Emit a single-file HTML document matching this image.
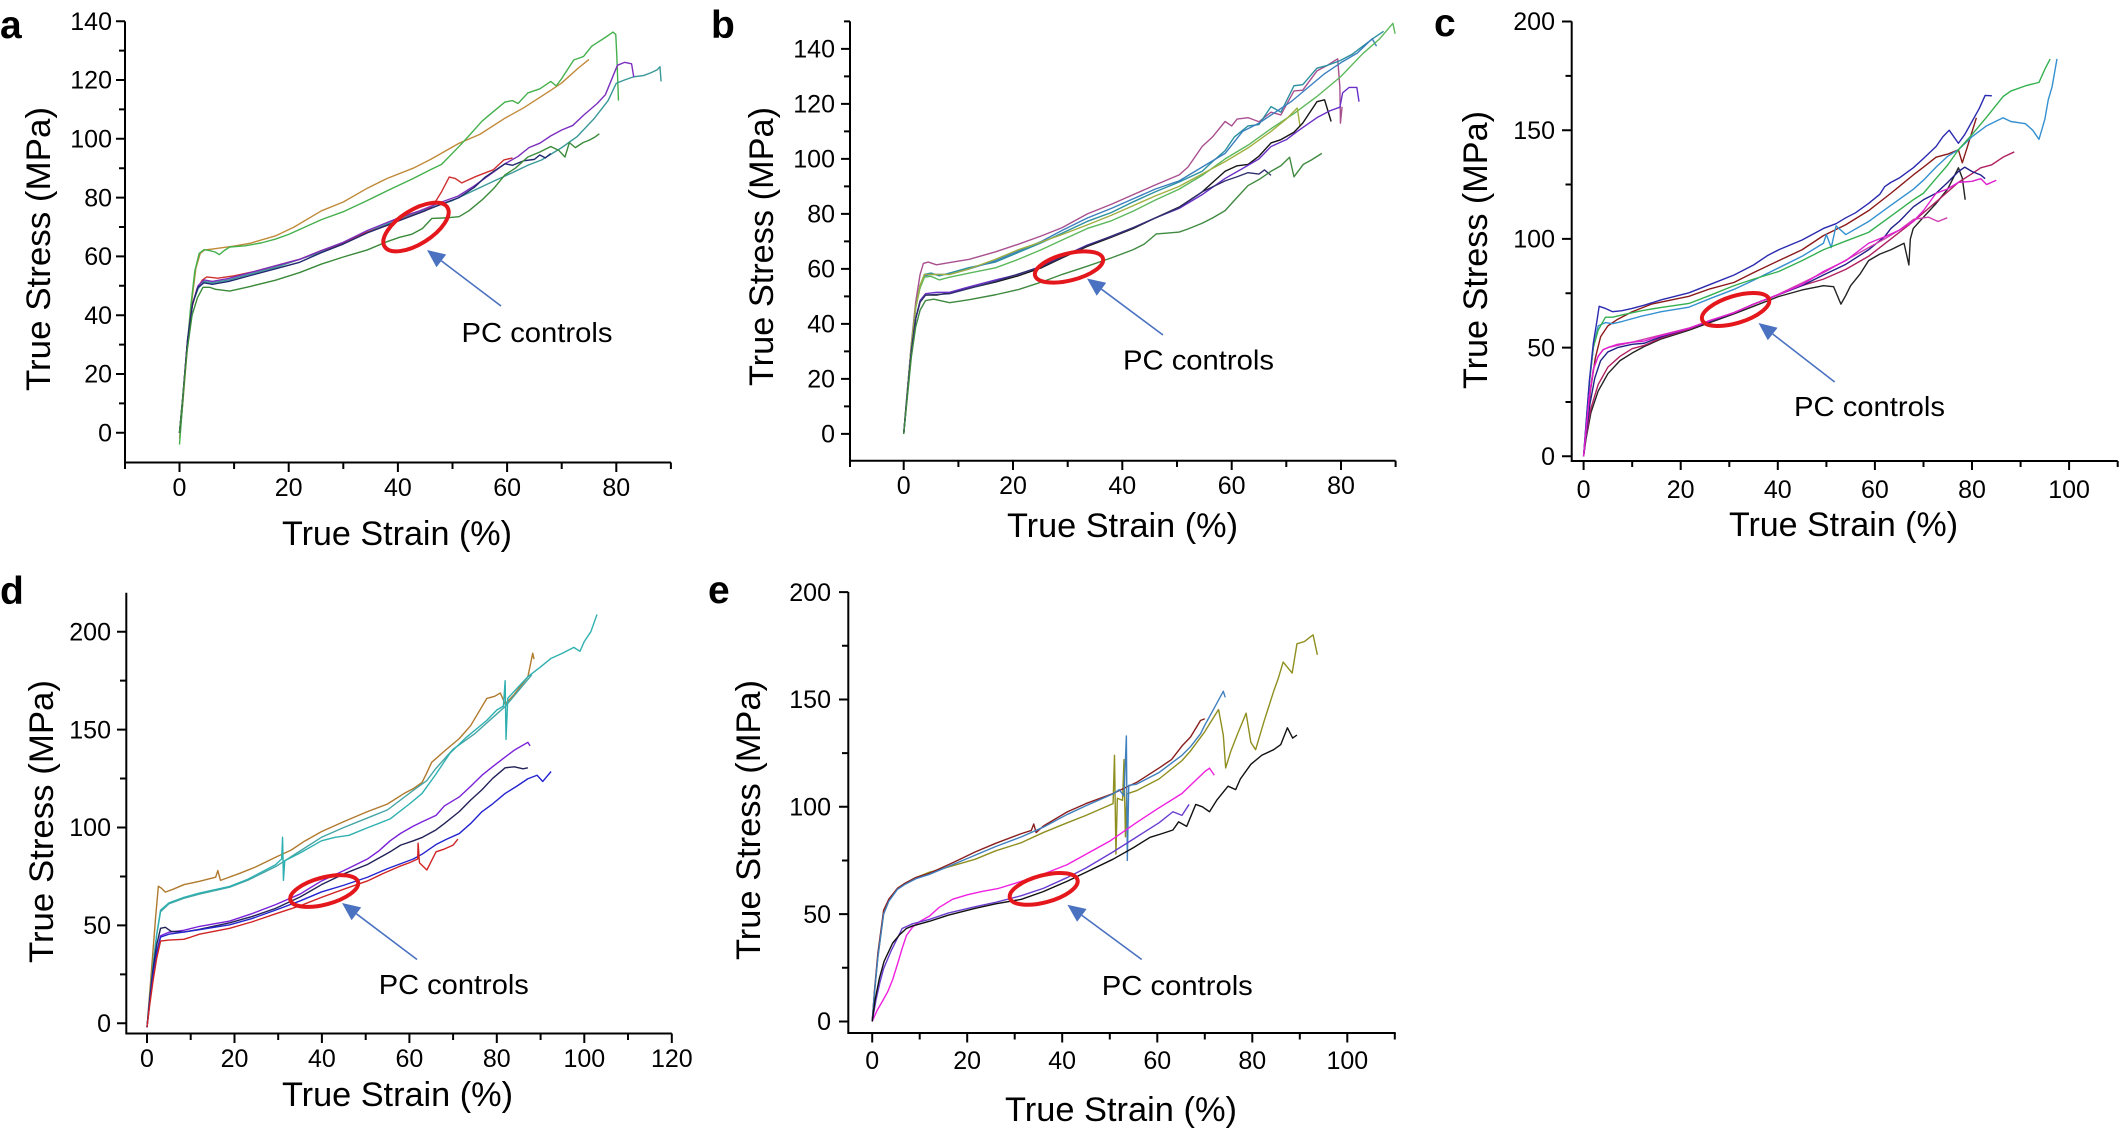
<!DOCTYPE html>
<html><head><meta charset="utf-8"><style>
html,body{margin:0;padding:0;background:#fff;}
svg{display:block;}
text{font-family:"Liberation Sans",Arial,sans-serif;fill:#000;}
.t{font-size:25px;}
.al{font-size:34px;}
.pc{font-size:28px;}
.lab{font-size:39px;font-weight:bold;}
.ax{stroke:#000;stroke-width:2;fill:none;}
.c path{fill:none;stroke-width:1.4;vector-effect:non-scaling-stroke;stroke-linejoin:round;}
.ell{fill:none;stroke:#e4171c;stroke-width:4;}
.arl{stroke:#4a72c0;stroke-width:1.6;}
.arh{fill:#4a72c0;}
</style></head><body>
<svg width="2123" height="1132" viewBox="0 0 2123 1132" xmlns="http://www.w3.org/2000/svg">
<rect width="2123" height="1132" fill="#fff"/>

<!-- ================= PANEL A ================= -->
<text class="lab" x="0" y="38">a</text>
<path class="ax" d="M125,21.4V462.5H671"/>
<path class="ax" d="M116,432.8H125M116,374H125M116,315.2H125M116,256.4H125M116,197.6H125M116,138.8H125M116,80H125M116,21.2H125
M119,403.4H125M119,344.6H125M119,285.8H125M119,227H125M119,168.2H125M119,109.4H125M119,50.6H125
M179.5,462.5V472M288.7,462.5V472M397.9,462.5V472M507.1,462.5V472M616.3,462.5V472
M125,462.5V469M234.1,462.5V469M343.3,462.5V469M452.5,462.5V469M561.7,462.5V469M670.9,462.5V469"/>
<g class="t" text-anchor="end">
<text x="112" y="441.5">0</text><text x="112" y="382.7">20</text><text x="112" y="323.9">40</text><text x="112" y="265.1">60</text>
<text x="112" y="206.3">80</text><text x="112" y="147.5">100</text><text x="112" y="88.7">120</text><text x="112" y="29.9">140</text>
</g>
<g class="t" text-anchor="middle">
<text x="179.5" y="496">0</text><text x="288.7" y="496">20</text><text x="397.9" y="496">40</text><text x="507.1" y="496">60</text><text x="616.3" y="496">80</text>
</g>
<text class="al" text-anchor="middle" x="397" y="545" textLength="230" lengthAdjust="spacingAndGlyphs">True Strain (%)</text>
<text class="al" text-anchor="middle" transform="translate(50,249) rotate(-90)" textLength="284" lengthAdjust="spacingAndGlyphs">True Stress (MPa)</text>
<g class="c" transform="matrix(5.46 0 0 -2.94 179.5 432.8)">
<path stroke="#c08a3a" d="M0,-2 L0.6,10 L1.4,28 L2.2,44 L3,56 L3.8,61 L4.6,62.2 L6,62.5 L8,63 L10,63.5 L13,64.5 L17.6,67 L21,70 L26,75.5 L30,78.5 L34.4,83.2 L38,86.5 L42.8,90 L46,93 L51.2,98.5 L55,101.5 L59.6,107 L63,110.5 L68,116.5 L70,119 L73,124 L75,127"/>
<path stroke="#44b04c" d="M0,-4 L0.5,8 L1.2,25 L2,42 L2.8,55 L3.6,61 L4.5,62.3 L5.5,62 L6.5,61.5 L7.3,60.6 L8.2,62 L9.2,63.2 L12,63.6 L15,64.6 L17.6,65.9 L20,67.5 L23,70 L26,72.5 L30,75.2 L34.4,79 L38,82.3 L42.8,86.5 L46,89.5 L48,91.3 L51.2,97.4 L53,101 L55.4,106 L57,108.5 L59.6,112.5 L61,113 L62,112 L63.8,115.6 L66,117 L68,119.5 L69,118 L70,120.5 L72.2,126.8 L74,128 L75.5,131.5 L76.5,132.7 L78,134.5 L79.4,136.3 L79.9,135.5 L80.1,128 L80.3,118 L80.4,113"/>
<path stroke="#3a9898" d="M0,0 L0.6,12 L1.5,32 L2.4,44 L3.4,49 L4.5,51.5 L6,51 L9,52 L13,54 L18,56.5 L26,61.5 L34.4,68.3 L40,72.5 L46,76.5 L50,79 L54,82.5 L58,86 L61,88.5 L63.8,91 L66.3,92.8 L70,97 L72.8,100.7 L76,107 L78.5,113 L80,118.9 L81.5,120 L83.2,121.1 L85,121.5 L86.4,122.5 L87.5,123.5 L88,124.5 L88.2,119.5"/>
<path stroke="#d03030" d="M0,0 L0.6,12 L1.4,30 L2.2,42 L3.2,49 L4.2,52 L5,53 L7,52.6 L10,53.4 L14,55 L18,57 L22,59 L26,62 L30,64.5 L34,68 L38,70.5 L42,73.5 L45,75.5 L46.5,77.5 L48,82 L49.4,87 L50.5,86.5 L51.7,85 L54.3,87.2 L57.5,89.5 L59.4,92.8 L61,93.5"/>
<path stroke="#7b2fbe" d="M0,0 L0.6,12 L1.5,32 L2.4,44 L3.4,50 L4.5,52 L6,51.5 L9,52.5 L13,54.5 L18,57 L22,59 L26,62 L30,64.8 L34.4,68.8 L40,73 L44,75.5 L48,78.5 L51,80.5 L54,84 L57,88 L59.6,91.5 L62,94 L64,97 L66,98.5 L68,101 L70,103 L72,104.5 L74,108 L76.5,112 L78,115 L80.2,125 L81.5,126 L82.8,125.5 L83.2,121"/>
<path stroke="#202870" d="M0,0 L0.6,12 L1.5,32 L2.4,44 L3.4,49.5 L4.5,51 L6,50.5 L9,51.5 L13,53.5 L18,56 L22,58 L26,61.3 L30,64.2 L34.4,68 L40,72 L44,74.8 L48,77.8 L51.2,80 L54,83.5 L56,87 L58,89.5 L59.6,91.5 L61,91 L63,92.5 L65,93 L66,94.5 L67,93.5 L68,95"/>
<path stroke="#3a8a3a" d="M0,0 L0.6,12 L1.4,28 L2.3,40 L3.3,46 L4.3,49.5 L5.5,49.5 L6.6,48.8 L9.2,48.2 L13,49.8 L17.6,51.9 L22,54.5 L26,57.4 L30,59.8 L34.4,62.2 L38,65 L40.3,66.5 L42.5,67.5 L44.5,69.5 L46.2,72.9 L48.7,73.1 L51.2,73.5 L53,75.5 L55.4,79.2 L57.5,83 L59.6,87.7 L61.5,90 L63.8,93.8 L66,95.5 L68,97.4 L69.5,96 L70.6,93.8 L71.4,98.7 L72.5,97 L73.9,98.7 L75,99.5 L76,100.5 L76.9,101.7"/>
</g>
<ellipse class="ell" cx="416" cy="227" rx="37" ry="17" transform="rotate(-32 416 227)"/>
<line class="arl" x1="501" y1="306" x2="441.4" y2="260.9"/>
<polygon class="arh" points="427,250 446.2,254.5 436.5,267.2"/>
<text class="pc" x="461.5" y="342" textLength="151" lengthAdjust="spacingAndGlyphs">PC controls</text>

<!-- ================= PANEL B ================= -->
<text class="lab" x="711" y="38">b</text>
<path class="ax" d="M850,21.4V460.7H1395.6"/>
<path class="ax" d="M841,433.9H850M841,378.9H850M841,323.9H850M841,268.9H850M841,213.9H850M841,158.9H850M841,103.9H850M841,48.9H850
M844,406.4H850M844,351.4H850M844,296.4H850M844,241.4H850M844,186.4H850M844,131.4H850M844,76.4H850M844,21.4H850
M903.7,460.7V470M1013,460.7V470M1122.3,460.7V470M1231.7,460.7V470M1341,460.7V470
M850,460.7V467M958.4,460.7V467M1067.7,460.7V467M1177,460.7V467M1286.3,460.7V467M1395.6,460.7V467"/>
<g class="t" text-anchor="end">
<text x="835" y="442.6">0</text><text x="835" y="387.6">20</text><text x="835" y="332.6">40</text><text x="835" y="277.6">60</text>
<text x="835" y="222.6">80</text><text x="835" y="167.6">100</text><text x="835" y="112.6">120</text><text x="835" y="57.6">140</text>
</g>
<g class="t" text-anchor="middle">
<text x="903.7" y="494">0</text><text x="1013" y="494">20</text><text x="1122.3" y="494">40</text><text x="1231.7" y="494">60</text><text x="1341" y="494">80</text>
</g>
<text class="al" text-anchor="middle" x="1122.5" y="537" textLength="231" lengthAdjust="spacingAndGlyphs">True Strain (%)</text>
<text class="al" text-anchor="middle" transform="translate(773,246.5) rotate(-90)" textLength="279" lengthAdjust="spacingAndGlyphs">True Stress (MPa)</text>
<g class="c" transform="matrix(5.466 0 0 -2.75 903.7 433.9)">
<path stroke="#a8508f" d="M0,0 L0.6,14 L1.4,33 L2.2,48 L3,58 L3.6,62 L4.5,62.5 L6,61.5 L8.4,62.3 L12,63.5 L16.8,66.2 L21,69 L25.2,72 L29,75 L33.6,80 L38,83.5 L42,87 L46,90.5 L50.4,94.2 L52,97 L54.6,104.5 L56.5,108 L58.8,113.6 L60,112 L61,114.5 L63,115 L65,113.5 L67.2,117 L69,116 L71.4,124.7 L73,125 L75.6,132 L77.5,134 L79.4,136.4 L79.8,126 L79.9,113 L80.2,119"/>
<path stroke="#2b90a0" d="M0,0 L0.6,14 L1.4,32 L2.2,46 L3,54 L3.8,58 L5,58.5 L6.5,57.5 L8.4,58.5 L12,60.5 L16.8,62.5 L21,66 L25.2,69.5 L29,73 L33.6,77.3 L38,80.5 L42,84.4 L46,88 L50.4,91.6 L54.6,95.5 L56.5,99 L58.8,103 L60.5,108 L63,112 L65,112.5 L67.2,119 L69,117 L71.4,126.6 L73,127 L75.6,133 L77.5,134 L79.8,135.7 L82,138 L84,141 L86,144 L87.8,146.4"/>
<path stroke="#3a7fbf" d="M0,0 L0.6,14 L1.4,32 L2.2,46 L3,54 L3.8,57.5 L5,58 L8.4,58 L12,60 L16.8,63 L21,66.5 L25.2,70 L29,74 L33.6,78.5 L38,82 L42,85.5 L46,89 L50.4,92 L55,97.5 L58.8,102 L62,110 L65,113 L68,117 L71,121 L74,126 L77,131 L80,135 L83,138.5 L85.7,143.7 L86.5,141"/>
<path stroke="#5cb85c" d="M0,0 L0.6,14 L1.4,32 L2.2,46 L3,53 L3.8,57 L5,57.3 L6.5,56 L8.4,57 L12,58.5 L16.8,60.4 L21,63.5 L25.2,67 L29,70.5 L33.6,74.7 L38,77.5 L42,81 L46,85 L50.4,89 L54.6,94 L58.8,100 L63,105 L67.2,111 L71.4,116.5 L75.6,122.7 L80,130 L84,138.3 L87,143.5 L89.5,149.3 L89.9,145.5"/>
<path stroke="#a0b040" d="M0,0 L0.6,14 L1.4,32 L2.2,46 L3,54 L3.8,58 L5,58 L8.4,58 L12,60 L16.8,63.5 L21,67 L25.2,69.8 L29,72.5 L33.6,76 L38,79.5 L42,83 L46,86.5 L50.4,90 L54.6,94.5 L58.8,99 L63,104 L67.2,110 L70,114.5 L72,118.5 L72.5,112"/>
<path stroke="#151515" d="M0,0 L0.6,13 L1.4,30 L2.2,42 L3,48 L4,50.5 L6,50.5 L8.4,51.3 L12,53 L16.8,55.2 L21,57.5 L25.2,60.4 L29,64 L33.6,68.2 L38,71.5 L42,74.7 L46,78.5 L50.4,82.5 L54.6,88 L58.8,95.5 L61,97.5 L63,98 L65,101 L67.2,105.8 L69,107 L71.4,109.7 L73,113 L75.6,120.8 L77,121.5 L78.2,113.6"/>
<path stroke="#6a2fc8" d="M0,0 L0.6,13 L1.4,30 L2.2,42 L3,48.5 L4,51 L6,51.5 L8.4,51.5 L12,53.5 L16.8,56 L21,58 L25.2,61 L29,64.5 L33.6,68.7 L38,71.8 L42,75 L46,78.5 L50.4,82 L54.6,87 L58.8,92.9 L62,96.5 L65,100 L67.2,104.5 L70,107 L72,110 L75.6,115 L78,117.5 L79.8,118.8 L80.3,124 L81.5,126 L82.9,126 L83.3,120.8"/>
<path stroke="#303070" d="M0,0 L0.6,13 L1.4,30 L2.2,42 L3,48 L4,50.5 L8.4,51 L16.8,55.5 L25.2,60.8 L33.6,68.5 L42,75 L50.4,82.3 L54.6,88 L58.8,92 L61,93.5 L63,95 L65,94.5 L66,96 L67.2,94"/>
<path stroke="#3f8a40" d="M0,0 L0.6,12 L1.4,28 L2.2,39 L3,45 L4,48.5 L5.5,49 L8.4,47.7 L12,48.8 L16.8,50.6 L21,52.5 L25.2,55.2 L29,58 L33.6,61 L38,64 L42,67 L44,69 L46.2,72.7 L48,73 L50.4,73.4 L52,74.5 L54.6,76.6 L56.5,78.5 L58.8,81.2 L61,86 L63,90.3 L65,92.5 L67.2,95.5 L69,97.5 L70.6,100.6 L71.4,93.5 L73.1,98 L74.5,99.5 L76.5,102"/>
</g>
<ellipse class="ell" cx="1069" cy="267" rx="35" ry="13.5" transform="rotate(-14 1069 267)"/>
<line class="arl" x1="1163" y1="335" x2="1101.5" y2="289.2"/>
<polygon class="arh" points="1087,278.5 1106.2,282.8 1096.7,295.7"/>
<text class="pc" x="1123" y="369.6" textLength="151" lengthAdjust="spacingAndGlyphs">PC controls</text>

<!-- ================= PANEL C ================= -->
<text class="lab" x="1434" y="36">c</text>
<path class="ax" d="M1571.7,21.4V461H2117.7"/>
<path class="ax" d="M1562,456.3H1571.7M1562,347.6H1571.7M1562,238.9H1571.7M1562,130.2H1571.7M1562,21.5H1571.7
M1565.5,402H1571.7M1565.5,293.3H1571.7M1565.5,184.5H1571.7M1565.5,75.9H1571.7
M1583.6,461V470M1680.7,461V470M1777.8,461V470M1874.9,461V470M1972,461V470M2069.1,461V470
M1632.2,461V467M1729.3,461V467M1826.4,461V467M1923.5,461V467M2020.6,461V467M2117.7,461V467"/>
<g class="t" text-anchor="end">
<text x="1555" y="465">0</text><text x="1555" y="356.3">50</text><text x="1555" y="247.6">100</text><text x="1555" y="138.9">150</text><text x="1555" y="30.2">200</text>
</g>
<g class="t" text-anchor="middle">
<text x="1583.6" y="498">0</text><text x="1680.7" y="498">20</text><text x="1777.8" y="498">40</text><text x="1874.9" y="498">60</text><text x="1972" y="498">80</text><text x="2069.1" y="498">100</text>
</g>
<text class="al" text-anchor="middle" x="1843.5" y="536" textLength="229" lengthAdjust="spacingAndGlyphs">True Strain (%)</text>
<text class="al" text-anchor="middle" transform="translate(1487,250) rotate(-90)" textLength="278" lengthAdjust="spacingAndGlyphs">True Stress (MPa)</text>
<g class="c" transform="matrix(4.855 0 0 -2.174 1583.6 456.3)">
<path stroke="#8b1a1a" d="M0,0 L0.5,12 L1.4,30 L2.4,45 L3.5,55 L5,60 L7,63 L10,66.5 L14,70 L21.7,73.6 L26,77 L31,80 L35,84.5 L40.2,90 L45,95 L49.4,101.5 L54,106.5 L58.7,113 L63.3,121 L67.9,129.4 L70,133 L72.6,137.6 L75,139 L77.2,141 L78,135 L79,142 L80.9,155.7"/>
<path stroke="#3590d0" d="M0,0 L0.5,14 L1.2,34 L2,50 L3,60 L4.5,61.5 L6,61 L7.9,62 L12,64.5 L16,66.5 L21.7,68.6 L26,72.5 L31,76.8 L35,81 L40.2,86.7 L45,92 L49.4,98 L50,102 L51,96 L52,106 L54,102 L58.7,108 L63,115 L67.9,122.8 L70,127 L72.6,133 L75,138 L77.2,141 L80,147 L83,152 L86.4,155.7 L88,154 L91,153 L92.5,150 L93.8,145.8 L95,155 L95.7,163.9 L96.5,170 L97.5,182.8"/>
<path stroke="#35b050" d="M0,0 L0.5,14 L1.2,34 L2,50 L3,58 L4.5,64 L6,64 L7.9,65 L12,67 L16,68.5 L21.7,70.3 L26,74 L31,78.5 L35,81.5 L40.2,85 L45,90 L49.4,95 L54,99 L58.7,103 L63,110 L67.9,118 L70,121 L72.6,127.8 L75,134 L77.2,141 L80,148 L83,156 L86.4,165.5 L88,168 L91,170.4 L93.8,172 L95,178 L96.1,182.8"/>
<path stroke="#2a2ab0" d="M0,0 L0.5,15 L1.2,35 L2,52 L2.8,63 L3.2,69 L4.5,68 L6,66.5 L7.9,67 L10,68 L12.5,69.5 L16,72 L21.7,75.2 L26,79 L31,83.4 L35,88 L38,92.5 L40.2,95 L45,99.5 L49.4,104.8 L52,107 L54,109.7 L56,112 L58.7,116.3 L61,120.5 L62,124 L63.3,126 L65,128 L67.9,132.7 L70,137 L72.6,142.5 L74,147 L75.3,150 L77.2,144 L78.5,148 L80,154 L81.5,160 L82.7,166 L84.1,165.8"/>
<path stroke="#222222" d="M0,0 L0.5,8 L1.5,20 L3,30 L5,38 L7.5,44 L10,47.5 L12.5,50.5 L16,54 L21.7,58 L26,61.5 L31,65.5 L35,69 L40.2,73.5 L45,76.5 L49.4,78.5 L51.5,78 L53,70 L54,74 L55,78.5 L57,84 L58.7,90 L61,93 L63.3,95 L66,98 L66.8,90 L67,88 L67.3,100 L67.9,104.8 L70,110 L72.6,116.3 L75,123 L77.2,132.7 L78,128 L78.6,118"/>
<path stroke="#b02060" d="M0,0 L0.5,9 L1.5,22 L3,33 L5,41 L7.5,46 L10,49.5 L12.5,51 L16,54.5 L21.7,58.5 L26,62 L31,66 L35,70 L40.2,74.4 L45,78.5 L49.4,81.5 L54,86 L58.7,92 L63.3,100 L67.9,108 L72.6,117 L77.2,126 L80,130 L81.8,132.7 L84,134 L86.4,137.6 L88.7,140"/>
<path stroke="#202088" d="M0,0 L0.5,10 L1.3,24 L2.3,36 L3.5,44 L5,48 L7,50 L10,51.5 L12.5,52 L16,55 L21.7,58.8 L26,62 L31,66 L35,70 L40.2,74.4 L45,78.5 L49.4,83.4 L54,88.3 L58.7,95 L62,101 L63.3,104.8 L65,108 L67.9,114.7 L70,118 L72.6,121 L75,126 L77.2,131 L78.5,133 L80,131 L81.8,129.4 L82.7,127.7"/>
<path stroke="#d040b0" d="M0,0 L0.5,12 L1.2,28 L2,40 L3,46 L4,49 L5,50 L10,52.5 L21.7,59 L31,66.2 L40.2,74.6 L49.4,84.5 L58.7,96 L62,100 L65,104 L68,109 L71,110 L73,108 L74.9,109.7"/>
<path stroke="#e01fd0" d="M0,0 L0.5,12 L1.2,28 L2,40 L3,46 L4,49 L5,50 L7,51.5 L10,52.5 L12.5,53 L16,55.5 L21.7,58.8 L26,62.5 L31,66 L35,70 L40.2,74.4 L45,79 L49.4,85 L54,90 L58.7,98 L62,101 L65,104 L67.9,108 L70,113 L72.6,121 L75,123 L77.2,126 L80,126.5 L81.8,127.7 L83,125 L85,127"/>
</g>
<ellipse class="ell" cx="1735.6" cy="309.5" rx="35" ry="13.5" transform="rotate(-17 1735.6 309.5)"/>
<line class="arl" x1="1834.7" y1="382" x2="1772.7" y2="334"/>
<polygon class="arh" points="1758.5,323 1777.6,327.7 1767.8,340.3"/>
<text class="pc" x="1794" y="416" textLength="151" lengthAdjust="spacingAndGlyphs">PC controls</text>

<!-- ================= PANEL D ================= -->
<text class="lab" x="0" y="604">d</text>
<path class="ax" d="M126.3,592.8V1033.5H671.8"/>
<path class="ax" d="M117,1023.3H126.3M117,925.4H126.3M117,827.5H126.3M117,729.6H126.3M117,631.7H126.3
M120,974.35H126.3M120,876.45H126.3M120,778.55H126.3M120,680.65H126.3
M147,1033.5V1043M234.5,1033.5V1043M321.9,1033.5V1043M409.4,1033.5V1043M496.8,1033.5V1043M584.3,1033.5V1043M671.8,1033.5V1043
M190.7,1033.5V1040M278.2,1033.5V1040M365.7,1033.5V1040M453.1,1033.5V1040M540.6,1033.5V1040M628,1033.5V1040"/>
<g class="t" text-anchor="end">
<text x="111" y="1032">0</text><text x="111" y="934.1">50</text><text x="111" y="836.2">100</text><text x="111" y="738.3">150</text><text x="111" y="640.4">200</text>
</g>
<g class="t" text-anchor="middle">
<text x="147" y="1067">0</text><text x="234.5" y="1067">20</text><text x="321.9" y="1067">40</text><text x="409.4" y="1067">60</text><text x="496.8" y="1067">80</text><text x="584.3" y="1067">100</text><text x="671.8" y="1067">120</text>
</g>
<text class="al" text-anchor="middle" x="397.5" y="1106" textLength="231" lengthAdjust="spacingAndGlyphs">True Strain (%)</text>
<text class="al" text-anchor="middle" transform="translate(53,821.5) rotate(-90)" textLength="283" lengthAdjust="spacingAndGlyphs">True Stress (MPa)</text>
<g class="c" transform="matrix(4.373 0 0 -1.958 147 1023.3)">
<path stroke="#b07a2e" d="M0,-2 L0.6,15 L1.3,35 L2,55 L2.6,70 L3.3,69 L4.2,67 L6,68.5 L8.4,70.8 L12,72.5 L15.7,74.6 L16.2,78 L16.8,73 L21,76.4 L25,80 L29.4,84.8 L33,88.5 L36,93 L39.9,97.9 L45,103 L50.4,108.1 L55,112 L58.8,117.4 L61,120 L62.9,123 L64,128 L65.1,133.3 L68,139 L71.4,145.4 L74,152 L77.7,165.9 L79.5,167 L80.8,168.7 L81.9,163 L84,168 L87.1,177 L88.2,189 L88.5,186"/>
<path stroke="#45a5a5" d="M0,-2 L0.6,12 L1.4,30 L2.2,45 L3.1,57 L5,61 L8.4,63.8 L12,66 L18.9,69.5 L23,73 L29.4,80 L35,88 L39.9,95 L45,100 L50,104.5 L55,109 L60.9,119 L64,124 L66,130 L70,140 L75,148 L80,158 L82,162 L85,170 L88,178"/>
<path stroke="#2fb0b0" d="M0,-2 L0.6,12 L1.4,30 L2.2,45 L3.1,57.8 L5,61.5 L8.4,64.3 L12,66.5 L15,68 L18.9,69.9 L23,73.5 L29.4,81 L30.8,84 L31,95 L31.2,73 L31.5,83 L35,87 L39.9,93.2 L43,95 L46.2,96 L50,99.5 L55.6,104.4 L60,112 L62.9,117.4 L66,127 L69.3,138 L73,146 L77.7,154.7 L80,160 L81.5,162 L81.9,175 L82.1,145 L82.5,166 L85,172 L87.1,177 L90,182 L92.4,186.4 L95,189 L97.6,192 L99,190 L100,195 L101.5,200 L102.9,208.8"/>
<path stroke="#7a22d8" d="M0,-2 L0.6,10 L1.4,25 L2.2,36 L3.1,44.7 L5,46.5 L8.4,47.5 L12,49.5 L18.9,52.2 L24,56 L29.4,60.6 L35,66 L39.9,72.7 L45,78 L50.4,83.9 L53,88 L55.6,93.2 L58,97 L60.9,100.7 L63,103 L66.1,106.2 L68,111 L71.4,115.6 L74,121 L76.6,126.7 L79,131 L81.9,136 L84,139.5 L87.1,143.5 L87.6,141.7"/>
<path stroke="#222258" d="M0,-2 L0.6,12 L1.4,28 L2.2,40 L3.1,48.5 L4.2,49 L5.5,47 L8.4,46.6 L12,48 L18.9,51.3 L24,54.5 L29.4,58.7 L35,64.5 L39.9,70.8 L45.1,76.4 L50.4,81.1 L55.6,87.6 L58,91 L60.9,93.2 L63,95 L66.1,98.8 L68,102 L71.4,108.1 L74,114 L76.6,119.3 L79,125 L81.9,130.5 L84,131 L86,130 L87.1,130.5"/>
<path stroke="#2424d0" d="M0,-2 L0.6,10 L1.4,25 L2.2,36 L3.1,44 L5,45.5 L8.4,46.6 L12,47.8 L18.9,50.3 L24,53.5 L29.4,57.8 L35,62.5 L39.9,67.1 L45,70.5 L50.4,74.6 L55,79 L60.9,83.9 L63,86.5 L66.1,91.3 L68.5,94 L71.4,96.9 L74,102 L76.6,108.1 L79,112 L81.9,117.4 L84.5,121 L87.1,124.9 L89.2,126.7 L90.5,123.5 L92.4,128.6"/>
<path stroke="#d02424" d="M0,-2 L0.6,9 L1.4,22 L2.2,33 L3.1,42 L5,42.5 L8.4,42.9 L10,44 L12,45.5 L18.9,48.5 L24,51.8 L29.4,55.9 L35,60 L39.9,64.3 L45,68.5 L50.4,72.7 L54,76.5 L57.7,80.1 L60,82 L61.9,83.9 L62,92 L62.3,82 L64,78.3 L66.1,87.6 L68,89 L70,91 L71.1,94.1"/>
</g>
<ellipse class="ell" cx="324.2" cy="891" rx="35" ry="13.5" transform="rotate(-15 324.2 891)"/>
<line class="arl" x1="417" y1="959.5" x2="356.4" y2="913.8"/>
<polygon class="arh" points="342,903 361.2,907.4 351.6,920.2"/>
<text class="pc" x="378.8" y="994" textLength="150" lengthAdjust="spacingAndGlyphs">PC controls</text>

<!-- ================= PANEL E ================= -->
<text class="lab" x="708" y="603">e</text>
<path class="ax" d="M848.3,592V1033H1395.7"/>
<path class="ax" d="M839,1021.5H848.3M839,914.15H848.3M839,806.8H848.3M839,699.45H848.3M839,592.1H848.3
M842,967.8H848.3M842,860.5H848.3M842,753.1H848.3M842,645.8H848.3
M872.2,1033V1042.5M967.2,1033V1042.5M1062.2,1033V1042.5M1157.3,1033V1042.5M1252.3,1033V1042.5M1347.3,1033V1042.5
M919.7,1033V1039.5M1014.7,1033V1039.5M1109.8,1033V1039.5M1204.8,1033V1039.5M1299.8,1033V1039.5M1394.8,1033V1039.5"/>
<g class="t" text-anchor="end">
<text x="831" y="1030.2">0</text><text x="831" y="922.9">50</text><text x="831" y="815.5">100</text><text x="831" y="708.2">150</text><text x="831" y="600.8">200</text>
</g>
<g class="t" text-anchor="middle">
<text x="872.2" y="1069">0</text><text x="967.2" y="1069">20</text><text x="1062.2" y="1069">40</text><text x="1157.3" y="1069">60</text><text x="1252.3" y="1069">80</text><text x="1347.3" y="1069">100</text>
</g>
<text class="al" text-anchor="middle" x="1121" y="1121" textLength="232" lengthAdjust="spacingAndGlyphs">True Strain (%)</text>
<text class="al" text-anchor="middle" transform="translate(760,820) rotate(-90)" textLength="280" lengthAdjust="spacingAndGlyphs">True Stress (MPa)</text>
<g class="c" transform="matrix(4.751 0 0 -2.147 872.2 1021.5)">
<path stroke="#8f8f20" d="M0,0 L0.5,14 L1.2,30 L2.4,50 L3.5,56.5 L5.3,62 L7,64.5 L9.2,67 L12,69.5 L14.5,71 L16.9,72.5 L21.7,75.6 L26,79.5 L31.4,83.3 L36,88 L41.1,92.6 L45,96 L50.7,101.5 L51,124 L51.3,78 L51.6,104 L52.7,103 L53,122 L53.3,86 L53.6,106 L55.6,107.5 L60.4,113 L65.2,121.5 L67,126 L70,135 L72.9,145.3 L73.9,133.4 L74.4,118.1 L75.5,126 L76.8,133.4 L78.7,143.6 L79.7,130 L80.7,126.6 L82.5,140 L84.5,153.8 L85.5,160 L86.5,167.4 L88.4,162.3 L89.4,175.9 L91,177 L92.8,180.1 L93.7,170.8"/>
<path stroke="#8a1e1e" d="M0,0 L0.5,15 L1.2,32 L2.4,51.8 L3.5,57 L5.3,62 L7,64.5 L9.2,67.1 L12,69 L16.9,73.9 L21.7,79 L26,83 L31.4,87.5 L33.5,89 L34,92 L34.5,88 L36,91 L41.1,97.7 L45,101.5 L50.7,106.2 L55.6,111.3 L60.4,118.1 L63,122 L65.2,128.3 L67,132.5 L69.1,140.2 L70,141"/>
<path stroke="#3f7fbf" d="M0,0 L0.5,14 L1.2,30 L2.4,50 L3.5,56 L5.3,61.5 L7,64 L9.2,66.5 L12,68.5 L16.9,73 L21.7,77.5 L26,81.5 L31.4,86 L36,90.5 L41.1,96.5 L45,100.5 L50.7,106 L52,108 L53,105 L53.5,133 L53.7,75 L54,110 L55.6,110.5 L60.4,116 L65.2,124 L67,128 L69.1,134 L70,138 L71.5,144 L73.9,153.8 L74.3,151"/>
<path stroke="#f020e0" d="M0,0 L1,5 L2.3,10 L3.3,14 L4.3,19.5 L5.5,28 L6.3,34 L7.2,40 L8.5,44 L10.1,46.7 L12,49 L14,53 L16.9,56.9 L20,59 L23,60.5 L26.6,62 L31,65 L36.2,68.8 L41,73 L45.9,79 L50,84 L55.6,92.6 L60,99 L65.2,106.2 L70,116.4 L71,118 L72,114.7"/>
<path stroke="#6a3dd0" d="M0,0 L0.8,10 L1.6,18 L2.4,24.6 L4,33 L6.3,43.3 L8.5,45.5 L12.1,47.6 L16,50.5 L21.7,53.5 L26,55.5 L31.4,58.6 L36,62 L41.1,67.1 L45,71.5 L50.7,79 L55,85 L60.4,92.6 L63.3,97.7 L65.2,96 L66.7,101.1"/>
<path stroke="#111111" d="M0,0 L0.6,10 L1.5,20 L2.5,28 L4.3,36.5 L5.8,40.5 L7.2,43.3 L8.5,44.5 L12.1,46.7 L16,49.5 L21.7,52.7 L26,54.8 L31.4,56.9 L36,60.5 L41.1,65.4 L45,69.5 L50.7,75.6 L55,81 L58.5,85.8 L61,87.5 L63.3,89.2 L64.5,93 L66.2,90.9 L68.1,101.1 L69.5,100 L71,97.7 L72.5,103 L74.9,109.6 L76.5,108 L77.5,113 L79.7,119.8 L82,124 L84.5,126.6 L86,129 L87.4,136.8 L88.5,132 L89.4,133.4"/>
</g>
<ellipse class="ell" cx="1043.7" cy="888.9" rx="35" ry="13.5" transform="rotate(-15 1043.7 888.9)"/>
<line class="arl" x1="1141.7" y1="959.5" x2="1081.9" y2="915.4"/>
<polygon class="arh" points="1067.4,904.7 1086.6,909 1077.1,921.8"/>
<text class="pc" x="1101.8" y="994.8" textLength="151" lengthAdjust="spacingAndGlyphs">PC controls</text>
</svg>
</body></html>
